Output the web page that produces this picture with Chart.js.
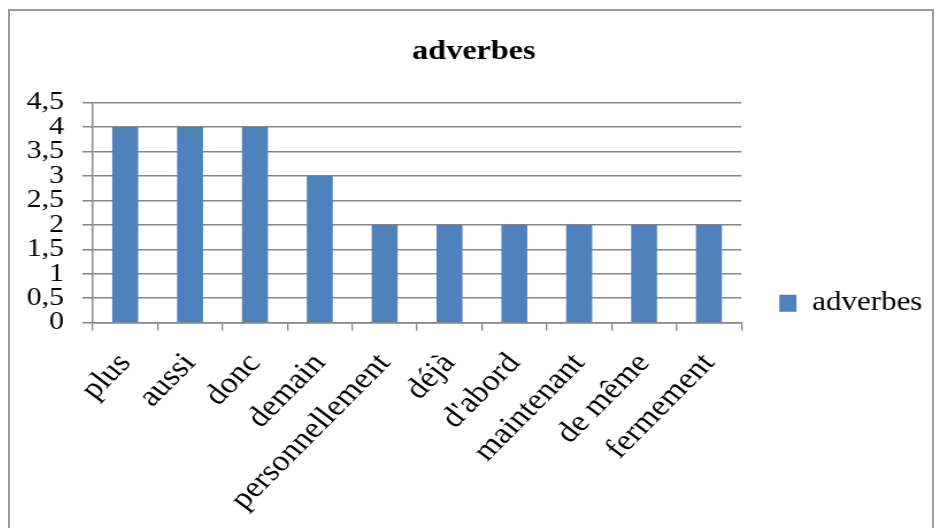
<!DOCTYPE html>
<html>
<head>
<meta charset="utf-8">
<script src="https://cdn.jsdelivr.net/npm/chart.js@4"></script>
<style>
    html, body { margin: 0; padding: 0; background: #fff; overflow: hidden; }
    #frame {
        position: absolute;
        left: 8px;
        top: 9px;
        width: 922px;
        height: 600px;
        border: 2px solid #9a9a9a;
        background: #fff;
    }
    /* the source picture is a little wider than tall, so the canvas is stretched */
    #chart { width: 922px; height: 522px; }
</style>
</head>
<body>
<div id="frame">
    <canvas id="chart" width="802" height="522" style="width:922px;height:522px"></canvas>
</div>
<script>
// Chart data
const categories = ['plus', 'aussi', 'donc', 'demain', 'personnellement', 'déjà', "d'abord", 'maintenant', 'de même', 'fermement'];
const adverbValues = [4, 4, 4, 3, 2, 2, 2, 2, 2, 2];
const yTickLabels = ['0', '0,5', '1', '1,5', '2', '2,5', '3', '3,5', '4', '4,5'];
const seriesName = 'adverbes';

const FONT = "'Liberation Serif', 'Times New Roman', serif";
const GRID = '#868686';

function initChart() {
    const ctx = document.getElementById('chart');
    new Chart(ctx, {
        type: 'bar',
        data: {
            labels: categories,
            datasets: [{
                label: seriesName,
                data: adverbValues,
                backgroundColor: '#4F81BD',
                barPercentage: 0.4,
                categoryPercentage: 1.0
            }]
        },
        options: {
            responsive: false,
            animation: false,
            devicePixelRatio: 1,
            layout: {
                padding: { left: 14, right: 9, top: 10, bottom: 0 }
            },
            plugins: {
                title: {
                    display: true,
                    text: 'adverbes',
                    color: '#000',
                    font: { family: FONT, size: 28, weight: 'bold' },
                    padding: { top: 14, bottom: 34 }
                },
                legend: {
                    position: 'right',
                    align: 'end',
                    fullSize: false,
                    labels: {
                        color: '#000',
                        font: { family: FONT, size: 27 },
                        boxWidth: 15,
                        boxHeight: 17,
                        padding: 6
                    }
                },
                tooltip: { enabled: false }
            },
            scales: {
                x: {
                    grid: {
                        offset: true,
                        drawOnChartArea: false,
                        color: GRID,
                        lineWidth: 1.3,
                        tickLength: 8
                    },
                    border: { color: GRID, width: 1.5 },
                    ticks: {
                        autoSkip: false,
                        // 49deg on the canvas shows as 45deg once stretched
                        minRotation: 49,
                        maxRotation: 49,
                        padding: 16,
                        color: '#000',
                        font: { family: FONT, size: 29.5 }
                    },
                    // the first rotated label may hang left under the y labels
                    afterFit: scale => { scale.paddingLeft = 0; }
                },
                y: {
                    min: 0,
                    max: 4.5,
                    grid: { color: GRID, lineWidth: 1.5, tickLength: 9 },
                    border: { color: GRID, width: 1.5 },
                    ticks: {
                        stepSize: 0.5,
                        autoSkip: false,
                        padding: 16,
                        color: '#000',
                        font: { family: FONT, size: 26 },
                        callback: (value, index) => yTickLabels[index]
                    },
                    // tick length + padding + widest label, padding counted once
                    afterFit: scale => { scale.width = 58; }
                },
                // empty axis, only keeps the legend away from the plot
                gap: {
                    type: 'linear',
                    position: 'right',
                    grid: { display: false },
                    border: { display: false },
                    ticks: { display: false },
                    afterFit: scale => { scale.width = 27; }
                }
            }
        }
    });
}

initChart();
</script>
</body>
</html>
